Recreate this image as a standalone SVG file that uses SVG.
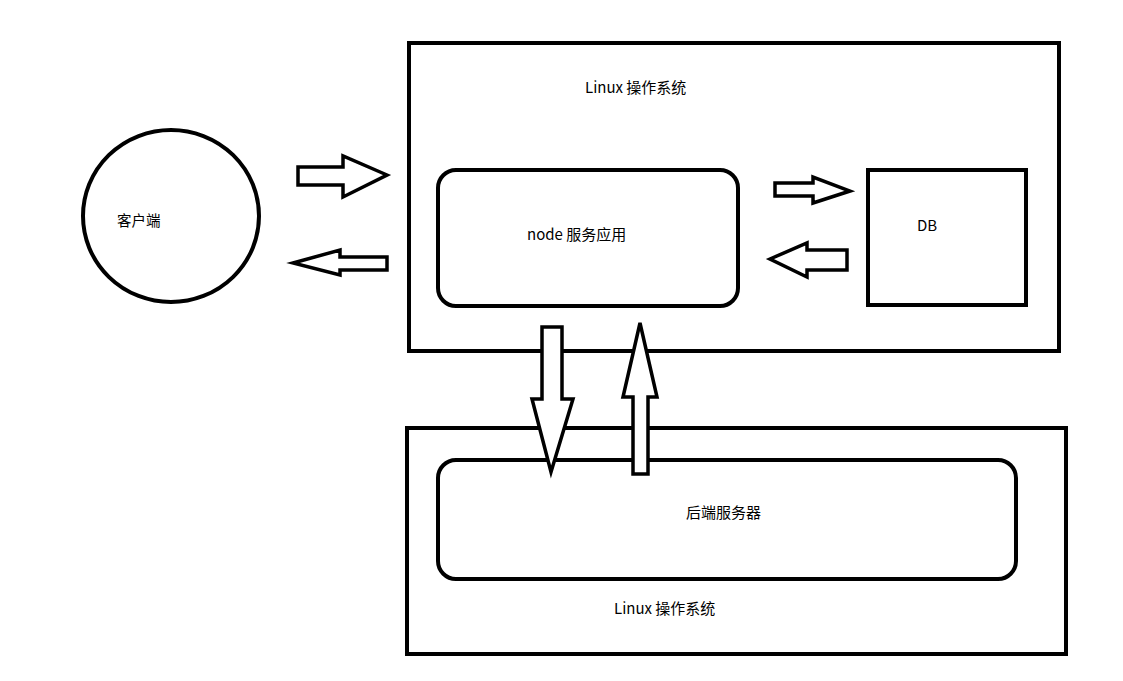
<svg xmlns="http://www.w3.org/2000/svg" width="1123" height="681" viewBox="0 0 1123 681">
<style>
.box{fill:none;stroke:#000;stroke-width:4}
.arr{fill:#fff;stroke:#000;stroke-width:3.5;stroke-linejoin:miter}
.t{font-family:"Noto Sans CJK SC","Noto Sans",sans-serif;font-size:15px;fill:#000}
</style>
<rect width="1123" height="681" fill="#fff"/>
<g id="linux-top">
<rect class="box" x="409" y="43" width="650" height="308"/>
<text class="t" x="585" y="93">Linux 操作系统</text>
</g>
<g id="linux-bottom">
<rect class="box" x="407" y="428" width="659" height="226"/>
<text class="t" x="614" y="614">Linux 操作系统</text>
</g>
<g id="client">
<ellipse class="box" cx="171" cy="216" rx="88" ry="86"/>
<text class="t" x="117" y="226" style="font-size:14.5px">客户端</text>
</g>
<g id="node-app">
<rect class="box" x="438" y="170" width="300" height="136" rx="18"/>
<text class="t" x="527" y="240">node 服务应用</text>
</g>
<g id="db">
<rect class="box" x="868" y="170" width="158" height="135"/>
<text class="t" x="917" y="231">DB</text>
</g>
<g id="backend">
<rect class="box" x="438" y="460" width="578" height="119" rx="18"/>
<text class="t" x="686" y="518">后端服务器</text>
</g>
<g id="connectors">
<polygon class="arr" points="298,167 343,167 343,156 387,175 343,197 343,185 298,185"/>
<polygon class="arr" points="387,257 340,257 340,250 293,263 340,275 340,270 387,270"/>
<polygon class="arr" points="775,183 813,183 813,177 850,191 813,203 813,196 775,196"/>
<polygon class="arr" points="847,250 807,250 807,243 770,259 807,277 807,270 847,270"/>
<polygon class="arr" points="542,327 562,327 562,399 573,399 551,472 532,399 542,399"/>
<polygon class="arr" points="640,323 657,397 648,397 648,474 633,474 633,397 623,397"/>
</g>
</svg>
